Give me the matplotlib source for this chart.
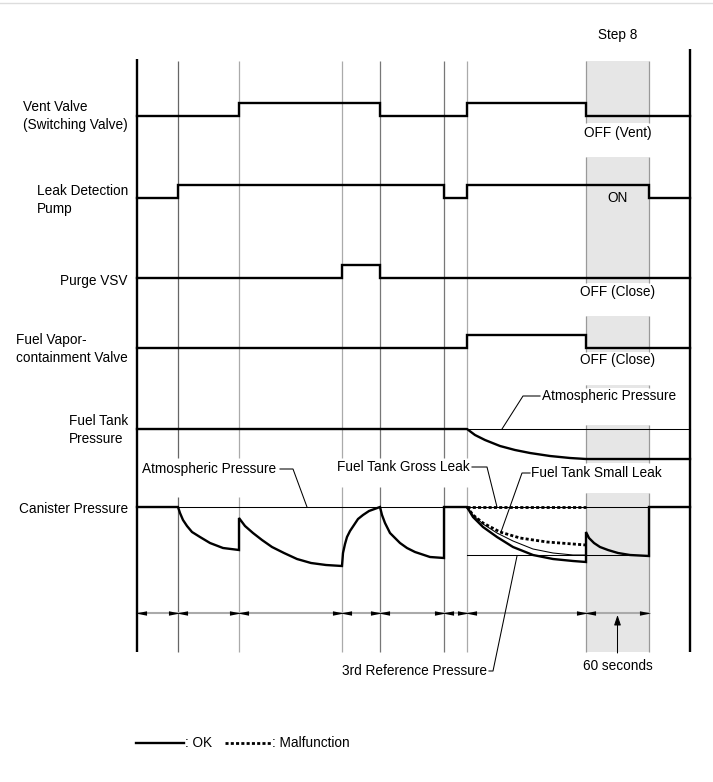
import matplotlib.pyplot as plt

# test step boundaries (time axis, arbitrary units from left border)
step_edges = [0, 41, 102, 205, 243, 307, 330, 449, 512, 553]
step8 = (449, 512)

# ON/OFF state of each switched part for every step interval
vent_valve = [0, 0, 1, 1, 0, 0, 1, 0, 0]
leak_pump = [0, 1, 1, 1, 1, 0, 1, 1, 0]
purge_vsv = [0, 0, 0, 1, 0, 0, 0, 0, 0]
vapor_valve = [0, 0, 0, 0, 0, 0, 1, 0, 0]

# fuel tank pressure drop below atmospheric
tank_t = [0, 330, 338, 348, 363, 378, 393, 413, 433, 449, 553]
tank_drop = [0, 0, 6, 11, 17, 21, 24, 27, 29, 30, 30]

# canister pressure drop below atmospheric (OK)
can_t = [0, 41, 43, 46, 50, 55, 63, 73, 86, 102,
         102, 108, 116, 125, 135, 147, 160, 174, 189, 205,
         206, 208, 210, 213, 217, 221, 226, 232, 243,
         245, 248, 253, 258, 263, 270, 278, 293, 307,
         307, 330, 336, 346, 360, 376, 396, 416, 436, 449,
         449, 452, 457, 463, 471, 481, 493, 512,
         512, 553]
can_drop = [0, 0, 6, 13, 19, 25, 30, 36, 41, 43,
            11, 19, 26, 33, 40, 46, 52, 56, 58, 59,
            46, 37, 30, 24, 18, 12, 8, 4, 0,
            8, 16, 26, 31, 36, 41, 45, 50, 51,
            0, 0, 10, 20, 30, 40, 48, 52, 54, 55,
            25, 31, 36, 40, 43, 46, 48, 49,
            0, 0]

# thin reference curve and 3rd reference pressure
ref_t = [330, 336, 346, 360, 376, 396, 416, 436, 449]
ref_drop = [0, 8, 17, 26, 34, 42, 46, 48, 48]
ref3_t = [330, 512]
ref3_drop = [48, 48]

# malfunction curves
small_t = [330, 336, 346, 363, 383, 410, 436, 449]
small_drop = [0, 8, 16, 25, 31, 35, 37, 38]
gross_t = [330, 449]
gross_drop = [0, 0]

plt.rcParams['font.family'] = ['Liberation Sans', 'DejaVu Sans']
plt.rcParams['font.size'] = 9.8

fig = plt.figure(figsize=(7.13, 7.82), dpi=100)
ax = fig.add_axes([0, 0, 1, 1])
ax.set_xlim(-137, 576)
ax.set_ylim(782, 0)
ax.axis('off')

THICK = 1.7
THIN = 0.75
DOT = (0, (1.1, 0.8))

# frame line at top
ax.axhline(3, color='#dddddd', lw=1)

# grey step 8 band, broken where the labels sit
for y0, y1 in [(61, 123), (157, 283), (316, 352), (385, 388),
               (425, 463), (493, 652)]:
    ax.fill_between(step8, y0, y1, color='#e6e6e6', lw=0, zorder=0)
    ax.vlines(step8, y0, y1, color='#999999', lw=0.9, zorder=1)

# step boundary lines, with gaps behind the annotation texts
grid_cols = {41: '#666666', 102: '#aaaaaa', 205: '#aaaaaa',
             243: '#777777', 307: '#777777', 330: '#aaaaaa'}
for t, c in grid_cols.items():
    gap = (458, 497) if t < 150 else (458, 487)
    ax.vlines(t, 61, gap[0], color=c, lw=0.9, zorder=1)
    ax.vlines(t, gap[1], 652, color=c, lw=0.9, zorder=1)

ax.vlines(step_edges[0], 59, 652, color='black', lw=THICK, zorder=3)
ax.vlines(step_edges[-1], 49, 652, color='black', lw=THICK, zorder=3)


def draw_switch(states, base, height=13.5):
    xs, ys = [], []
    for i, s in enumerate(states):
        y = base - height * s
        xs += [step_edges[i], step_edges[i + 1]]
        ys += [y, y]
    ax.plot(xs, ys, color='black', lw=THICK, solid_joinstyle='miter',
            zorder=4)


draw_switch(vent_valve, 116)
draw_switch(leak_pump, 198)
draw_switch(purge_vsv, 278)
draw_switch(vapor_valve, 348)

# fuel tank pressure
TANK_ATM = 429
ax.plot([step_edges[0], step_edges[-1]], [TANK_ATM, TANK_ATM],
        color='black', lw=THIN, zorder=3)
ax.plot(tank_t, [TANK_ATM + d for d in tank_drop], color='black',
        lw=THICK, zorder=4)

# canister pressure
CAN_ATM = 507
ax.plot([step_edges[0], step_edges[-1]], [CAN_ATM, CAN_ATM],
        color='black', lw=THIN, zorder=3)
ax.plot(ref3_t, [CAN_ATM + d for d in ref3_drop], color='black',
        lw=THIN, zorder=3)
ax.plot(ref_t, [CAN_ATM + d for d in ref_drop], color='black',
        lw=THIN, zorder=3)
ax.plot(can_t, [CAN_ATM + d for d in can_drop], color='black',
        lw=THICK, solid_joinstyle='miter', zorder=4)
ax.plot(small_t, [CAN_ATM + d for d in small_drop], color='black',
        lw=THICK + 0.3, ls=DOT, zorder=4)
ax.plot(gross_t, [CAN_ATM + d for d in gross_drop], color='black',
        lw=THICK + 0.3, ls=DOT, zorder=4)

# step duration arrows: grey line with filled heads at each boundary
ARROW_Y = 613
ax.plot([step_edges[0], step_edges[-2]], [ARROW_Y, ARROW_Y],
        color='#aaaaaa', lw=1.5, zorder=2)
head_r = [(-1, -0.4), (1, 0), (-1, 0.4), (-1, -0.4)]
head_l = [(1, -0.4), (-1, 0), (1, 0.4), (1, -0.4)]
ax.plot([b - 4 for b in step_edges[1:-1]], [ARROW_Y] * 8, ls='none',
        marker=head_r, ms=8, color='black', mew=0, zorder=3)
ax.plot([a + 4 for a in step_edges[:-2]], [ARROW_Y] * 8, ls='none',
        marker=head_l, ms=8, color='black', mew=0, zorder=3)

# row labels
labels = [('Vent Valve\n(Switching Valve)', 116),
          ('Leak Detection\nPump', 200),
          ('Purge VSV', 281),
          ('Fuel Vapor-\ncontainment Valve', 349),
          ('Fuel Tank\nPressure', 430),
          ('Canister Pressure', 509)]
for txt, y in labels:
    ax.text(-9, y, txt, ha='right', va='center', multialignment='left',
            linespacing=1.35)

# step 8 texts
mid8 = sum(step8) / 2
ax.text(mid8, 35, 'Step 8', ha='center', va='center')
ax.text(mid8, 133, 'OFF (Vent)', ha='center', va='center')
ax.text(mid8, 198, 'ON', ha='center', va='center')
ax.text(mid8, 292, 'OFF (Close)', ha='center', va='center')
ax.text(mid8, 360, 'OFF (Close)', ha='center', va='center')
ax.text(mid8, 666, '60 seconds', ha='center', va='center')
ax.annotate('', xy=(mid8, 615), xytext=(mid8, 653),
            arrowprops=dict(arrowstyle='-|>,head_length=0.6,head_width=0.2',
                            color='black', lw=THIN, shrinkA=0, shrinkB=0,
                            mutation_scale=10))

# annotations with leader lines
notes = [('Atmospheric Pressure', 405, 396, 'left',
          [(403, 396), (386, 396), (365, 429)]),
         ('Atmospheric Pressure', 5, 469, 'left',
          [(143, 469), (156, 469), (170, 507)]),
         ('Fuel Tank Gross Leak', 200, 467, 'left',
          [(335, 467), (350, 467), (360, 507)]),
         ('Fuel Tank Small Leak', 394, 473, 'left',
          [(393, 473), (385, 473), (364, 532)]),
         ('3rd Reference Pressure', 350, 671, 'right',
          [(352, 671), (356, 671), (380, 556)])]
for txt, x, y, ha, path in notes:
    ax.text(x, y, txt, ha=ha, va='center')
    ax.plot([p[0] for p in path], [p[1] for p in path], color='black',
            lw=THIN, zorder=5)

# legend
ax.plot([-1, 47], [743, 743], color='black', lw=THICK)
ax.text(48, 743, ': OK', ha='left', va='center')
ax.plot([88, 134], [743, 743], color='black', lw=THICK + 0.3, ls=DOT)
ax.text(135, 743, ': Malfunction', ha='left', va='center')

fig.savefig('out.png', dpi=100)
